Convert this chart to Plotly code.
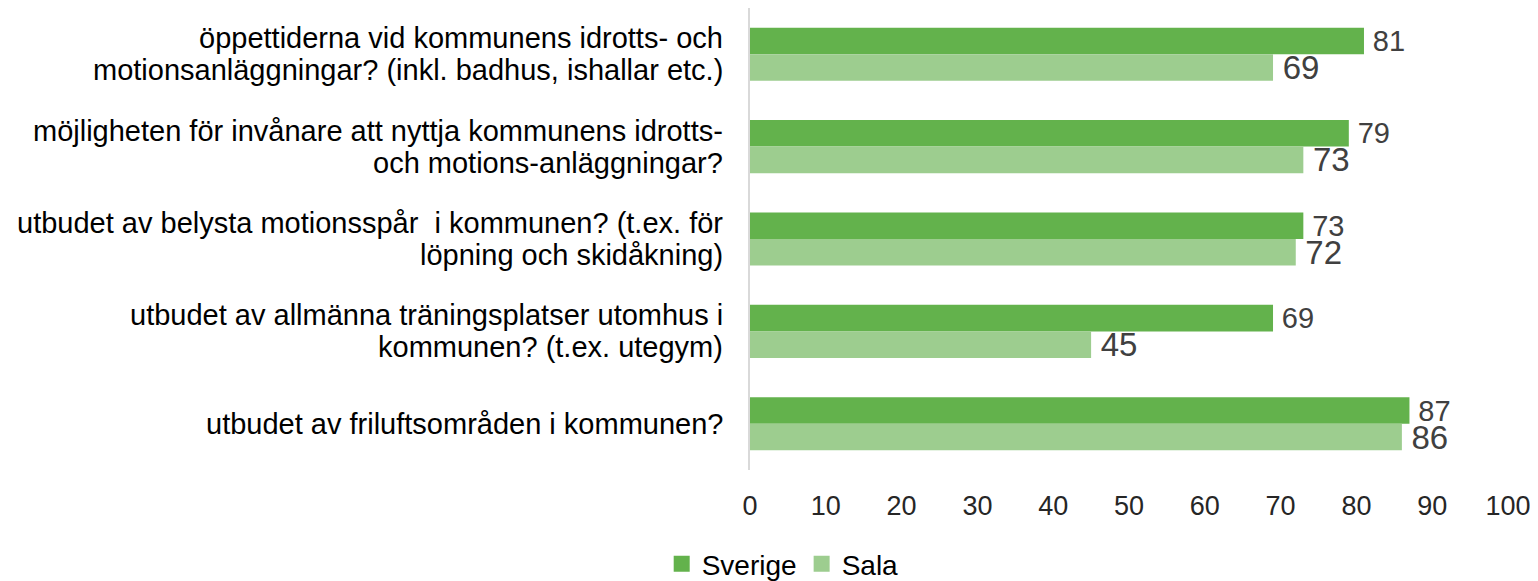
import plotly.graph_objects as go

categories = [
    "öppettiderna vid kommunens idrotts- och<br>motionsanläggningar? (inkl. badhus, ishallar etc.)",
    "möjligheten för invånare att nyttja kommunens idrotts-<br>och motions-anläggningar?",
    "utbudet av belysta motionsspår  i kommunen? (t.ex. för<br>löpning och skidåkning)",
    "utbudet av allmänna träningsplatser utomhus i<br>kommunen? (t.ex. utegym)",
    "utbudet av friluftsområden i kommunen?",
]
sverige = [81, 79, 73, 69, 87]
sala = [69, 73, 72, 45, 86]
tick_vals = [0, 10, 20, 30, 40, 50, 60, 70, 80, 90, 100]

FONT = "Liberation Sans, Arial, sans-serif"
C_SVE = "#63B24C"
C_SALA = "#9DCD8F"
THIN = "\u2009"

fig = go.Figure()
fig.add_trace(go.Bar(
    y=categories, x=sverige, orientation="h", name="Sverige",
    marker=dict(color=C_SVE, line=dict(width=0)),
    text=[THIN + str(v) for v in sverige], textposition="outside",
    textfont=dict(size=29, color="#404040", family=FONT),
    constraintext="none", cliponaxis=False, showlegend=False,
))
fig.add_trace(go.Bar(
    y=categories, x=sala, orientation="h", name="Sala",
    marker=dict(color=C_SALA, line=dict(width=0)),
    text=[THIN + str(v) for v in sala], textposition="outside",
    textfont=dict(size=33, color="#404040", family=FONT),
    constraintext="none", cliponaxis=False, showlegend=False,
))
# legend entries with larger square symbols
for name, col in [("Sverige", C_SVE), ("Sala", C_SALA)]:
    fig.add_trace(go.Scatter(
        x=[None], y=[None], mode="markers", name=name,
        marker=dict(symbol="square", size=16, color=col),
        showlegend=True,
    ))

# category labels as annotations (tighter line spacing than tick labels)
LINE = 32
for cat in categories:
    lines = cat.split("<br>")
    n = len(lines)
    for i, ln in enumerate(lines):
        fig.add_annotation(
            xref="paper", x=0, xanchor="right", xshift=-25,
            yref="y", y=cat, yanchor="middle",
            yshift=((n - 1) / 2 - i) * LINE,
            text=ln, showarrow=False,
            font=dict(size=29, color="#000000", family=FONT),
        )

fig.update_layout(
    width=1522, height=581,
    paper_bgcolor="white", plot_bgcolor="white",
    margin=dict(l=742, r=22, t=0, b=119),
    barmode="group", bargap=0.425, bargroupgap=0,
    font=dict(family=FONT, color="#000000"),
    showlegend=True,
    legend=dict(
        orientation="h", x=0.509, xref="container", xanchor="center",
        y=0.0, yref="container", yanchor="bottom",
        font=dict(size=28, color="#000000", family=FONT),
        traceorder="normal", itemwidth=30,
    ),
)
fig.update_xaxes(
    range=[0, 100], tickvals=tick_vals, ticktext=[str(v) for v in tick_vals],
    showgrid=False, zeroline=False, showline=False,
    tickfont=dict(size=27, color="#262626", family=FONT),
    ticks="", ticklabelstandoff=17, ticklabeloverflow="allow",
)
fig.update_yaxes(
    autorange="reversed", showgrid=False, zeroline=False,
    showline=True, linecolor="#D9D9D9", linewidth=2,
    showticklabels=False, ticks="",
)

fig.write_html("out.html")
